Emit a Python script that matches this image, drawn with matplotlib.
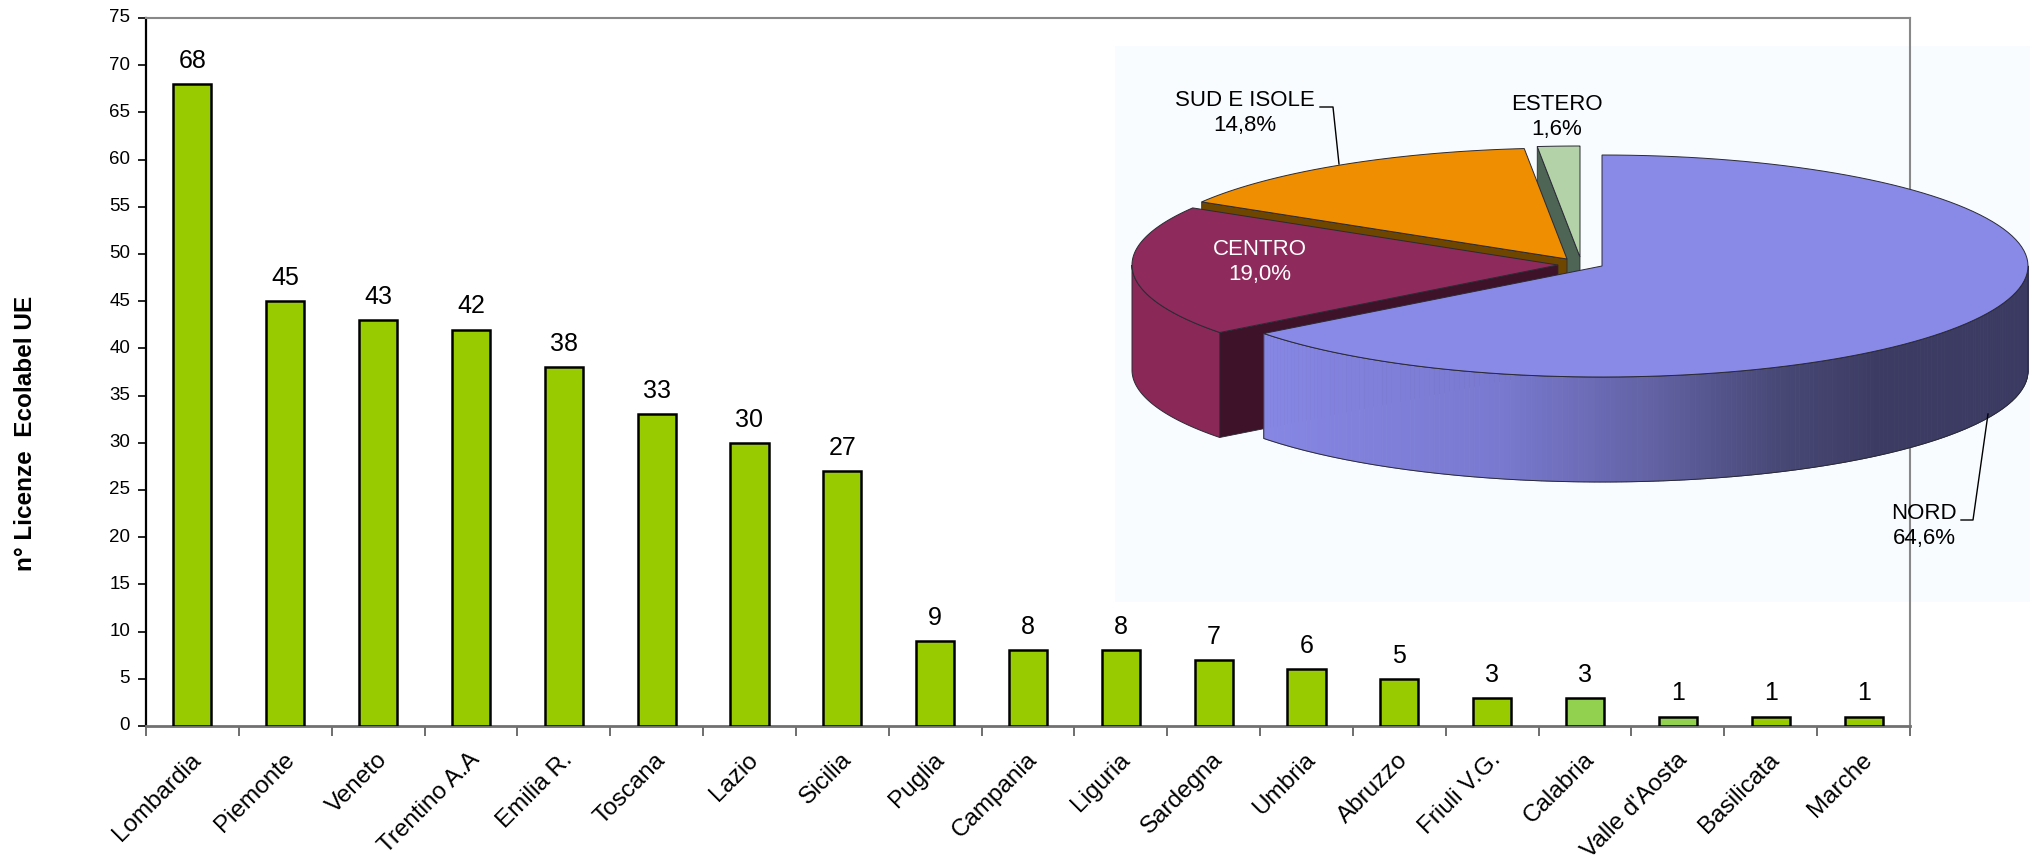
import numpy as np
import matplotlib
matplotlib.use('Agg')
import matplotlib.pyplot as plt
import matplotlib.transforms as mtrans
from matplotlib.patches import Polygon

plt.rcParams['font.family'] = ['Liberation Sans', 'DejaVu Sans']

# ---------------- data ----------------
regions = ['Lombardia', 'Piemonte', 'Veneto', 'Trentino A.A', 'Emilia R.', 'Toscana',
           'Lazio', 'Sicilia', 'Puglia', 'Campania', 'Liguria', 'Sardegna', 'Umbria',
           'Abruzzo', 'Friuli V.G.', 'Calabria', "Valle d'Aosta", 'Basilicata', 'Marche']
licenze = [68, 45, 43, 42, 38, 33, 30, 27, 9, 8, 8, 7, 6, 5, 3, 3, 1, 1, 1]
bar_colors = ['#99CC00'] * 15 + ['#92D050', '#92D050', '#99CC00', '#99CC00']
y_ticks = list(range(0, 80, 5))
y_label = 'n° Licenze  Ecolabel UE'

pie_labels = ['NORD', 'CENTRO', 'SUD E ISOLE', 'ESTERO']
pie_shares = [64.6, 19.0, 14.8, 1.6]
pie_pct = ['64,6%', '19,0%', '14,8%', '1,6%']

# ---------------- figure ----------------
W, H = 2031, 861
fig = plt.figure(figsize=(W / 100, H / 100), dpi=100)
fig.patch.set_facecolor('white')

L, R, T, B0 = 146, 1910, 18, 726
ax = fig.add_axes([L / W, (H - B0) / H, (R - L) / W, (B0 - T) / H])
x = np.arange(len(regions))
ax.bar(x, licenze, width=0.41, color=bar_colors, edgecolor='black', linewidth=1.8, zorder=3)
ax.set_xlim(-0.5, len(regions) - 0.5)
ax.set_ylim(0, 75)

# y ticks (labels drawn as explicit text for exact sizing)
ax.set_yticks(y_ticks)
ax.set_yticklabels([])
ax.tick_params(axis='y', direction='out', length=6, width=1.2, color='black')
ytrans = mtrans.offset_copy(ax.get_yaxis_transform(), fig=fig, x=-11.5, y=0, units='points')
for v in y_ticks:
    ax.text(0, v, str(v), transform=ytrans, ha='right', va='center', fontsize=13.5,
            clip_on=False)

# x ticks at category boundaries, category labels as rotated text
ax.set_xticks(np.arange(-0.5, len(regions), 1.0))
ax.set_xticklabels([])
ax.tick_params(axis='x', direction='out', length=7, width=1.2, color='#555555')
xtrans = mtrans.offset_copy(ax.get_xaxis_transform(), fig=fig, x=4, y=-22, units='points')
for xi, name in zip(x, regions):
    ax.text(xi, 0, name, transform=xtrans, rotation=45, ha='right', va='center',
            rotation_mode='anchor', fontsize=17.5, clip_on=False)

for s in ['top', 'right']:
    ax.spines[s].set_color('#888888')
    ax.spines[s].set_linewidth(1.5)
ax.spines['left'].set_color('black')
ax.spines['left'].set_linewidth(1.6)
ax.spines['bottom'].set_color('#707070')
ax.spines['bottom'].set_linewidth(2)

for xi, v in zip(x, licenze):
    ax.annotate(str(v), (xi, v), xytext=(0, 8), textcoords='offset points',
                ha='center', va='bottom', fontsize=18, zorder=4)

fig.text(26 / W, (H - 433) / H, y_label, rotation=90, ha='center', va='center',
         fontsize=17.5, fontweight='bold')

# ---------------- inset 3D pie ----------------
IL, IR, IT, IB = 1115, 2031, 46, 602
ax2 = fig.add_axes([IL / W, (H - IB) / H, (IR - IL) / W, (IB - IT) / H])
ax2.set_facecolor('#F8FCFE')
ax2.set_xlim(IL, IR)
ax2.set_ylim(IB, IT)
ax2.set_xticks([])
ax2.set_yticks([])
for s in ax2.spines.values():
    s.set_visible(False)
# main frame's right border passes through the inset
ax2.plot([R, R], [IT, IB], color='#888888', lw=1.5, zorder=0.5)

CX, CY, A, Bq, DEPTH = 1580, 262, 426, 111, 105
offsets = {'NORD': (22, 4), 'CENTRO': (-22, 3), 'SUD E ISOLE': (-13, -3), 'ESTERO': (0, -5)}
top_col = {'NORD': '#8989E8', 'CENTRO': '#8E2A5C', 'SUD E ISOLE': '#EE8E00', 'ESTERO': '#B4D2A8'}
wall_col = {'CENTRO': '#8A2858'}
cut_col = {'CENTRO': '#3E1228', 'SUD E ISOLE': '#6E4600', 'ESTERO': '#4E6454'}
EDGE = '#2a2a35'

# angles (CCW, degrees) – slices go clockwise from 12 o'clock
bounds = {}
start = 90.0
for lab, sh in zip(pie_labels, pie_shares):
    end = start - sh * 3.6
    t1, t2 = end, start
    if t2 <= 90 and lab != pie_labels[0]:
        t1 += 360
        t2 += 360
    bounds[lab] = (t1, t2)
    start = end


def rim(ox, oy, th, dz=0.0):
    t = np.radians(th)
    return (ox + A * np.cos(t), oy - Bq * np.sin(t) + dz)


def arc(ox, oy, t1, t2, dz=0.0, n=120):
    ts = np.linspace(t1, t2, n)
    return [rim(ox, oy, t, dz) for t in ts]


def apex(lab):
    dx, dy = offsets[lab]
    return CX + dx, CY + dy


def draw_cut(lab, th, z):
    ox, oy = apex(lab)
    p = rim(ox, oy, th)
    poly = [(ox, oy), p, (p[0], p[1] + DEPTH), (ox, oy + DEPTH)]
    ax2.add_patch(Polygon(poly, closed=True, facecolor=cut_col[lab], edgecolor=EDGE,
                          lw=0.6, zorder=z))


def draw_top(lab, z, ec=EDGE):
    ox, oy = apex(lab)
    t1, t2 = bounds[lab]
    poly = [(ox, oy)] + arc(ox, oy, t1, t2)
    ax2.add_patch(Polygon(poly, closed=True, facecolor=top_col[lab], edgecolor=ec,
                          lw=0.7, zorder=z))


def draw_wall(lab, u1, u2, z, color=None, grad=None):
    ox, oy = apex(lab)
    if grad is None:
        poly = arc(ox, oy, u1, u2) + arc(ox, oy, u2, u1, DEPTH)
        ax2.add_patch(Polygon(poly, closed=True, facecolor=color, edgecolor=EDGE,
                              lw=0.7, zorder=z))
    else:
        ts = np.linspace(u1, u2, 200)
        for ta, tb in zip(ts[:-1], ts[1:]):
            pa, pb = rim(ox, oy, ta), rim(ox, oy, tb)
            xm = 0.5 * (pa[0] + pb[0])
            c = grad(xm)
            poly = [pa, pb, (pb[0], pb[1] + DEPTH), (pa[0], pa[1] + DEPTH)]
            ax2.add_patch(Polygon(poly, closed=True, facecolor=c, edgecolor=c,
                                  lw=0.6, zorder=z))
        outline = arc(ox, oy, u1, u2) + arc(ox, oy, u2, u1, DEPTH) + [rim(ox, oy, u1)]
        xs, ys = zip(*outline)
        ax2.plot(xs, ys, color=EDGE, lw=0.7, zorder=z + 0.01)


gx = [1264, 1500, 1650, 1780, 1880, 2100]
gr = [134, 121, 98, 72, 59, 58]
gb = [228, 208, 165, 118, 99, 98]


def nord_grad(xm):
    r = np.interp(xm, gx, gr) / 255
    bb = np.interp(xm, gx, gb) / 255
    return (r, r, bb)


# ESTERO
draw_cut('ESTERO', bounds['ESTERO'][1], 1)
draw_top('ESTERO', 1.1)
# SUD E ISOLE
draw_cut('SUD E ISOLE', bounds['SUD E ISOLE'][1], 2)
draw_top('SUD E ISOLE', 2.1)
# CENTRO
draw_cut('CENTRO', bounds['CENTRO'][1], 3)
draw_wall('CENTRO', 180, bounds['CENTRO'][1], 3.05, color=wall_col['CENTRO'])
draw_top('CENTRO', 3.1)
# NORD
draw_wall('NORD', bounds['NORD'][0] + 360, 360, 4, grad=nord_grad)
draw_top('NORD', 4.1)

fs = 16
ax2.text(1245, 113, pie_labels[2] + '\n' + pie_pct[2], ha='center', va='center',
         fontsize=fs, linespacing=1.25, zorder=6)
ax2.text(1557, 117, pie_labels[3] + '\n' + pie_pct[3], ha='center', va='center',
         fontsize=fs, linespacing=1.25, zorder=6)
ax2.text(1260, 262, pie_labels[1] + '\n' + pie_pct[1], ha='center', va='center',
         fontsize=fs, linespacing=1.25, color='white', zorder=6)
ax2.text(1924, 526, pie_labels[0] + '\n' + pie_pct[0], ha='center', va='center',
         fontsize=fs, linespacing=1.25, zorder=6)
ax2.plot([1320, 1333, 1339], [107, 107, 164], color='black', lw=1.0, zorder=6)
ax2.plot([1961, 1973, 1988], [520, 520, 414], color='black', lw=1.0, zorder=6)

fig.savefig('out.png', dpi=100)
